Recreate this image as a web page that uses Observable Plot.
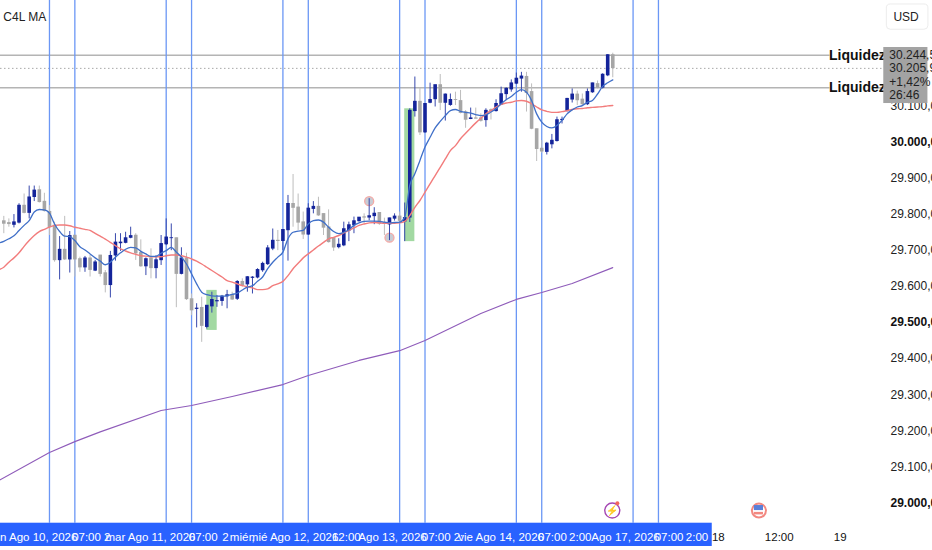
<!DOCTYPE html>
<html><head><meta charset="utf-8">
<script src="https://cdn.jsdelivr.net/npm/d3@7"></script>
<script src="https://cdn.jsdelivr.net/npm/@observablehq/plot@0.6"></script>
<style>html,body{margin:0;padding:0;background:#fff}</style>
</head><body><div id="chart"></div>
<script>
const opens=[29781,29776,29770,29776,29824,29803,29847,29867,29835,29807,
29769,29672,29702,29674,29741,29676,29652,29678,29643,29686,
29637,29603,29685,29719,29720,29734,29741,29693,29655,29678,
29650,29672,29716,29733,29734,29634,29678,29565,29537,29541,
29487,29544,29558,29559,29572,29575,29565,29613,29605,29623,
29624,29644,29661,29704,29727,29725,29755,29829,29819,29778,
29743,29814,29821,29801,29764,29734,29708,29713,29754,29769,
29780,29792,29790,29794,29804,29776,29771,29787,29794,29779,
29790,30085,30112,30026,30108,30118,30158,30108,30102,30117,
30114,30083,30063,30066,30066,30060,30089,30085,30103,30132,
30145,30161,30175,30181,30139,30036,29982,29972,29993,30002,
30060,30085,30117,30132,30118,30104,30137,30161,30150,30184,
30241];
const highs=[29794,29787,29799,29829,29856,29878,29878,29878,29858,29824,
29778,29738,29794,29752,29741,29681,29683,29686,29672,29686,
29644,29697,29746,29746,29750,29764,29746,29729,29679,29704,
29685,29741,29787,29773,29734,29707,29692,29579,29552,29570,
29547,29584,29575,29575,29589,29584,29616,29621,29627,29627,
29649,29667,29713,29759,29755,29757,29852,29910,29856,29806,
29829,29835,29847,29801,29812,29734,29732,29778,29778,29792,
29791,29801,29843,29818,29804,29789,29789,29801,29806,29831,
30092,30180,30149,30106,30163,30158,30187,30133,30133,30138,
30143,30087,30094,30094,30078,30092,30092,30117,30152,30150,
30172,30191,30193,30193,30161,30036,30004,29999,30021,30069,
30069,30121,30147,30141,30133,30147,30163,30169,30189,30242,
30246];
const lows=[29746,29764,29762,29773,29801,29787,29835,29831,29806,29741,
29667,29618,29672,29637,29626,29639,29639,29626,29641,29626,
29582,29568,29670,29697,29718,29732,29672,29653,29630,29621,
29621,29658,29713,29699,29541,29632,29561,29519,29485,29445,
29482,29526,29542,29545,29538,29561,29561,29598,29584,29579,
29621,29639,29658,29699,29699,29699,29670,29764,29755,29730,
29741,29801,29794,29741,29720,29697,29704,29710,29724,29746,
29778,29773,29782,29771,29769,29741,29727,29781,29778,29724,
29777,30069,30018,30024,30106,30097,30087,30058,30099,30101,
30078,30038,30062,30064,30055,30041,30061,30083,30101,30115,
30138,30159,30138,30083,30034,29946,29969,29964,29981,30000,
30050,30083,30108,30101,30101,30101,30135,30147,30147,30181,
30178];
const closes=[29773,29772,29778,29824,29803,29847,29866,29833,29808,29764,
29672,29702,29674,29740,29674,29652,29678,29645,29667,29634,
29603,29685,29722,29722,29734,29740,29691,29655,29676,29650,
29673,29718,29736,29734,29634,29678,29564,29533,29539,29490,
29547,29563,29560,29572,29576,29563,29613,29602,29626,29625,
29646,29663,29706,29727,29725,29757,29829,29817,29776,29743,
29816,29821,29796,29762,29722,29707,29716,29759,29770,29781,
29791,29790,29795,29802,29773,29774,29789,29794,29781,29790,
30087,30112,30026,30106,30117,30158,30108,30132,30117,30116,
30080,30061,30066,30064,30058,30087,30085,30106,30133,30148,
30163,30176,30182,30135,30036,29980,29973,29996,30004,30061,
30062,30120,30132,30115,30104,30139,30163,30149,30187,30241,
30204];
const maFast=[29720,29725,29732,29740,29755,29769,29782,29806,29813,29812,29803,
29773,29752,29739,29738,29727,29710,29701,29690,29679,29670,
29660,29667,29681,29693,29703,29708,29707,29697,29690,29683,
29683,29692,29699,29708,29695,29681,29662,29635,29607,29584,
29577,29574,29573,29573,29574,29578,29581,29590,29598,29602,
29614,29626,29649,29667,29681,29695,29732,29750,29753,29755,
29773,29782,29784,29778,29764,29752,29746,29750,29757,29769,
29776,29780,29781,29781,29780,29778,29776,29777,29778,29792,
29880,29912,29949,29986,30013,30039,30057,30073,30087,30090,
30085,30082,30080,30076,30073,30075,30083,30092,30106,30117,
30126,30138,30145,30138,30115,30078,30055,30043,30039,30046,
30060,30078,30089,30097,30101,30110,30115,30133,30154,30164,
30172];
const maSlow=[29646,29653,29667,29679,29693,29711,29727,29741,29752,29758,29764,
29769,29770,29770,29768,29764,29761,29758,29755,29747,29739,
29731,29722,29713,29704,29698,29693,29689,29685,29684,29682,
29682,29682,29685,29687,29687,29685,29681,29676,29670,29662,
29653,29644,29635,29626,29616,29612,29607,29602,29599,29596,
29591,29591,29593,29602,29607,29614,29630,29649,29664,29679,
29690,29701,29712,29722,29732,29736,29741,29748,29755,29762,
29769,29773,29776,29777,29776,29775,29775,29775,29776,29780,
29796,29819,29838,29861,29884,29907,29930,29953,29976,29990,
30009,30024,30039,30053,30066,30078,30087,30097,30104,30108,
30110,30114,30115,30113,30106,30097,30089,30085,30082,30082,
30084,30087,30090,30092,30093,30095,30096,30097,30098,30100,
30101];
const maLongBar=[-1,9,14,19,31,37,45,55,60,70,78,83,94,101,106,112,120];
const maLongVal=[29062,29140,29170,29197,29256,29270,29295,29328,29353,29395,29422,29450,29525,29564,29583,29608,29652];
const sessionBars=[9,14,32,37,55,60,78,83,101,106,124,129];
const levels=[30240,30150];
const lastLevel=[30204];
const priceTicks=[29100,29200,29300,29400,29600,29700,29800,29900,30100];
const priceTicksBold=[29000,29500,30000];
const tagLabels=["30.244,5","30.205,9","+1,42%","26:46"];
const tagPrices=[30240,30204,30165,30129];
const timeBars=[6,16.3,20.4,28.9,39.3,43.7,47,57.1,67.5,76.6,85.2,89.6,98,108.1,113.6,122.5,131.1,136.6];
const timeLabels=["lun Ago 10, 2026","07:00","2","mar Ago 11, 2026","07:00","2","mié ,","mié Ago 12, 2026","12:00","Ago 13, 2026","07:00","2:","vie Ago 14, 2026","07:00","2:00","Ago 17, 2026","07:00","2:00"];
const outerBars=[140.8,152.8,164.8];
const outerLabels=["18","12:00","19"];
const greenBoxes=[{a:40,b:42.05,top:29589,bot:29478},{a:79,b:81,top:30092,bot:29724}];
const marksDots=[{i:72,p:29836},{i:76,p:29735}];

const bars=opens.map((o,i)=>({i,o,h:highs[i],l:lows[i],c:closes[i],up:closes[i]>=opens[i]}));
const navy="#14249a", grey="#a6a6a6";
const fmt=d3.formatLocale({decimal:",",thousands:".",grouping:[3],currency:["",""]}).format(",.1f");
const FONT='"Liberation Sans Narrow","Liberation Sans",sans-serif';
const X0=-0.65, XR=173.74, YB=28868.4, YT=30392, AXB=28944;

const chart=Plot.plot({
  width:932,height:550,marginLeft:0,marginRight:47,marginTop:0,marginBottom:0,
  style:{fontFamily:FONT,background:"#fff"},
  x:{domain:[X0,XR],axis:null},
  y:{domain:[YB,YT],axis:null},
  marks:[
    Plot.rect(greenBoxes,{x1:"a",x2:"b",y1:"bot",y2:"top",fill:"#a2d9a2"}),
    Plot.ruleY(levels,{x1:X0,x2:162.8,stroke:"#b4b4b4",strokeWidth:1.5}),
    Plot.ruleY(levels,{x1:171.8,x2:XR,stroke:"#b4b4b4",strokeWidth:1.5}),
    Plot.ruleY(lastLevel,{x1:X0,x2:XR,stroke:"#a8a8a8",strokeWidth:1,strokeDasharray:"1.5,2.5"}),
    Plot.ruleX(sessionBars,{y1:AXB,y2:YT,stroke:"#6b97f5",strokeWidth:1.3}),
    Plot.dot(marksDots,{x:"i",y:"p",r:4.5,fill:"#c8ccd4",stroke:"#f4a9a5",strokeWidth:1.3}),
    Plot.line(maLongVal,{x:(d,i)=>maLongBar[i],y:d=>d,stroke:"#8f5cba",strokeWidth:1.1}),
    Plot.ruleX(bars,{x:"i",y1:"l",y2:"h",stroke:d=>d.up?"#3748ad":"#bdbdbd",strokeWidth:1}),
    Plot.ruleX(bars,{x:"i",y1:d=>Math.min(d.o,d.c)-0.7,y2:d=>Math.max(d.o,d.c)+0.7,stroke:d=>d.up?navy:grey,strokeWidth:3.6}),
    Plot.line(maSlow,{x:(d,i)=>i-1,y:d=>d,stroke:"#f27c7c",strokeWidth:1.4,curve:"monotone-x"}),
    Plot.line(maFast,{x:(d,i)=>i-1,y:d=>d,stroke:"#3f6fc8",strokeWidth:1.3,curve:"monotone-x"}),
    Plot.text(["C4L MA"],{x:-0.1,y:30345,textAnchor:"start",fontSize:12,fill:"#222"}),
    Plot.axisY({anchor:"right",ticks:priceTicks,tickSize:0,tickPadding:5,tickFormat:fmt,label:null,fontSize:12,fill:"#222"}),
    Plot.axisY({anchor:"right",ticks:priceTicksBold,tickSize:0,tickPadding:5,tickFormat:fmt,label:null,fontSize:12,fontWeight:"bold",fill:"#111"}),
    Plot.text(levels,{x:168.2,y:d=>d,text:()=>"Liquidez",fontSize:14,fontWeight:"bold",fill:"#111"}),
    Plot.rect([0],{x1:173.4,x2:182.1,y1:30106.6,y2:30261.8,fill:"#a3a3a3"}),
    Plot.text(tagLabels,{x:174.5,y:(d,i)=>tagPrices[i],text:d=>d,textAnchor:"start",fontSize:12,fill:"#222"}),
    Plot.rect([0],{x1:174.0,x2:182.2,y1:30311,y2:30381,fill:"#fff",stroke:"#ececec",rx:4}),
    Plot.text(["USD"],{x:175.3,y:30346,textAnchor:"start",fontSize:12,fill:"#222"}),
    Plot.rect([0],{x1:X0,x2:139.6,y1:28879.5,y2:AXB,fill:"#2962ff"}),
    Plot.text(timeLabels,{x:(d,i)=>timeBars[i],y:28905,text:d=>d,fontSize:11.5,fill:"#fff"}),
    Plot.text(outerLabels,{x:(d,i)=>outerBars[i],y:28905,text:d=>d,fontSize:11.5,fill:"#111"}),
    Plot.dot([0],{x:119.9,y:28979,r:7.5,fill:"#fff",stroke:"#a445b2",strokeWidth:1.4}),
    Plot.dot([0],{x:120.9,y:28999,r:2,fill:"#f4665c"}),
    Plot.text(["\u26A1"],{x:119.9,y:28979,fontSize:10,fill:"#a445b2"}),
    Plot.dot([0],{x:148.8,y:28979,r:8,fill:"#f28880"}),
    Plot.dot([0],{x:148.8,y:28979,r:6,fill:"#fff"}),
    Plot.rect([0],{x1:147.9,x2:149.7,y1:28979,y2:28993,fill:"#5a7fd8"}),
    Plot.rect([0],{x1:147.9,x2:149.7,y1:28967,y2:28974,fill:"#f28880"})
  ]
});
document.getElementById("chart").appendChild(chart);
</script></body></html>
